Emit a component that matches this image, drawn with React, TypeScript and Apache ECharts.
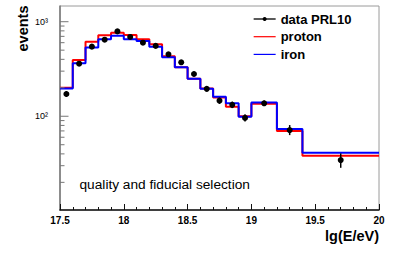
import React, { useEffect, useRef } from "react";
import * as echarts from "echarts";

const binEdges = [17.5, 17.6, 17.7, 17.8, 17.9, 18.0, 18.1, 18.2, 18.3, 18.4, 18.5, 18.6, 18.7, 18.8, 18.9, 19.0, 19.2, 19.4, 20.0];
const protonCounts = [200, 394, 614, 718, 765, 723, 652, 577, 430, 330, 250, 197, 158, 126, 100, 136, 69.7, 38.2];
const ironCounts = [197, 363, 535, 652, 711, 652, 625, 544, 422, 329, 249, 195, 161, 137, 99, 140, 73.3, 41.1];
const dataX = [17.55, 17.65, 17.75, 17.85, 17.95, 18.05, 18.15, 18.25, 18.35, 18.45, 18.55, 18.65, 18.75, 18.85, 18.95, 19.1, 19.3, 19.7];
const dataCounts = [172, 360, 545, 645, 790, 690, 600, 555, 452, 372, 280, 195, 146, 132, 96, 137, 71.4, 34.4];
const dataLow = [160, 342, 522, 621, 763, 665, 577, 532, 432, 354, 264, 182, 135, 122, 88, 128, 63.2, 28.5];
const dataHigh = [185, 379, 568, 670, 818, 716, 624, 579, 473, 391, 297, 209, 158, 143, 105, 147, 80.7, 40.5];
const yTickValues = [20, 30, 40, 50, 60, 70, 80, 90, 100, 200, 300, 400, 500, 600, 700, 800, 900, 1000];
const yMajorTicks = [100, 1000];
const yLabels: Record<string, string> = { "100": "10²", "1000": "10³" };
const xMin = 17.5;
const xMax = 20;
const yMin = 10.2;
const yMax = 1466;

function histPoints(vals: number[]) {
  return binEdges.map((e, i) => [e, vals[Math.min(i, vals.length - 1)]]);
}

export default function App() {
  const ref = useRef<HTMLDivElement>(null);
  useEffect(() => {
    const chart = echarts.init(ref.current!, null, { renderer: "svg" });
    const font = "Liberation Sans";
    chart.setOption({
      animation: false,
      backgroundColor: "#ffffff",
      textStyle: { fontFamily: font },
      grid: {
        left: 60,
        right: 20,
        top: 6,
        bottom: 60,
        show: true,
        borderColor: "#9a9a9a",
        borderWidth: 1,
        backgroundColor: "transparent",
        containLabel: false,
        outerBoundsMode: "none",
      },
      legend: {
        orient: "vertical",
        left: 253,
        top: 12.5,
        padding: 0,
        itemWidth: 22,
        itemHeight: 5,
        itemGap: 4.7,
        textStyle: { fontFamily: font, fontSize: 13, fontWeight: "bold", color: "#000" },
        data: [
          { name: "data PRL10", lineStyle: { opacity: 1, width: 1.3, color: "#000" } },
          { name: "proton", lineStyle: { width: 1.2 }, itemStyle: { opacity: 0 } },
          { name: "iron", lineStyle: { width: 1.2 }, itemStyle: { opacity: 0 } },
        ],
      },
      xAxis: {
        type: "value",
        min: xMin,
        max: xMax,
        interval: 0.5,
        axisLine: { show: true, lineStyle: { color: "#111", width: 1.5 } },
        axisTick: { show: true, inside: true, length: 6, lineStyle: { color: "#111" } },
        minorTick: { show: true, splitNumber: 5, length: 3, lineStyle: { color: "#111" } },
        splitLine: { show: false },
        minorSplitLine: { show: false },
        axisLabel: {
          fontSize: 10,
          fontWeight: "bold",
          color: "#000",
          margin: 5,
          fontFamily: font,
          formatter: (v: number) => String(Math.round(v * 10) / 10),
        },
      },
      yAxis: {
        type: "log",
        logBase: 10,
        min: yMin,
        max: yMax,
        axisLine: { show: true, lineStyle: { color: "#777", width: 1.5 } },
        axisTick: { show: false },
        splitLine: { show: false },
        axisLabel: {
          fontSize: 9,
          color: "#000",
          margin: 12,
          fontFamily: font,
          showMinLabel: true,
          showMaxLabel: true,
          formatter: (v: number) => {
            const key = String(Math.round(v));
            const lg = Math.log10(v);
            if (Math.abs(lg - Math.round(lg)) < 1e-6 && yLabels[key]) return yLabels[key];
            return "";
          },
        },
      },
      series: [
        {
          name: "proton",
          type: "line",
          step: "end",
          symbol: "none",
          data: histPoints(protonCounts),
          lineStyle: { color: "#ff0000", width: 2 },
          itemStyle: { color: "#ff0000" },
          z: 2,
        },
        {
          name: "iron",
          type: "line",
          step: "end",
          symbol: "none",
          data: histPoints(ironCounts),
          lineStyle: { color: "#0000ff", width: 2 },
          itemStyle: { color: "#0000ff" },
          z: 3,
        },
        {
          name: "errors",
          type: "custom",
          z: 4,
          data: dataX.map((x, i) => [x, dataLow[i], dataHigh[i]]),
          renderItem: (params: any, api: any) => {
            const p1 = api.coord([api.value(0), api.value(1)]);
            const p2 = api.coord([api.value(0), api.value(2)]);
            return {
              type: "line",
              shape: { x1: p1[0], y1: p1[1], x2: p2[0], y2: p2[1] },
              style: { stroke: "#000", lineWidth: 1.5 },
            };
          },
          encode: { x: 0, y: [1, 2] },
          silent: true,
        },
        {
          name: "data PRL10",
          type: "line",
          symbol: "circle",
          symbolSize: 6,
          data: dataX.map((x, i) => [x, dataCounts[i]]),
          lineStyle: { opacity: 0, color: "#000" },
          itemStyle: { color: "#000" },
          z: 5,
        },
        {
          name: "yticks",
          type: "custom",
          z: 6,
          silent: true,
          clip: false,
          data: yTickValues.map((v) => [xMin, v, yMajorTicks.includes(v) ? 1 : 0]),
          renderItem: (params: any, api: any) => {
            const p = api.coord([api.value(0), api.value(1)]);
            const len = api.value(2) === 1 ? 8.5 : 4.5;
            return {
              type: "line",
              shape: { x1: p[0], y1: p[1], x2: p[0] + len, y2: p[1] },
              style: { stroke: "#777", lineWidth: 1 },
            };
          },
          encode: { x: 0, y: 1 },
        },
      ],
      graphic: [
        {
          type: "text",
          x: 22.5,
          y: 28.5,
          rotation: Math.PI / 2,
          style: {
            text: "events",
            fontFamily: font,
            fontSize: 14.5,
            fontWeight: "bold",
            fill: "#000",
            align: "center",
            verticalAlign: "middle",
          },
        },
        {
          type: "text",
          x: 379,
          y: 235.5,
          style: {
            text: "lg(E/eV)",
            fontFamily: font,
            fontSize: 14.5,
            fontWeight: "bold",
            fill: "#000",
            align: "right",
            verticalAlign: "middle",
          },
        },
        {
          type: "text",
          x: 79.5,
          y: 184,
          style: {
            text: "quality and fiducial selection",
            fontFamily: font,
            fontSize: 13.7,
            fill: "#000",
            align: "left",
            verticalAlign: "middle",
          },
        },
      ],
    });
    return () => chart.dispose();
  }, []);
  return <div ref={ref} style={{ width: 399, height: 270, position: "absolute", left: 0, top: 0 }} />;
}
